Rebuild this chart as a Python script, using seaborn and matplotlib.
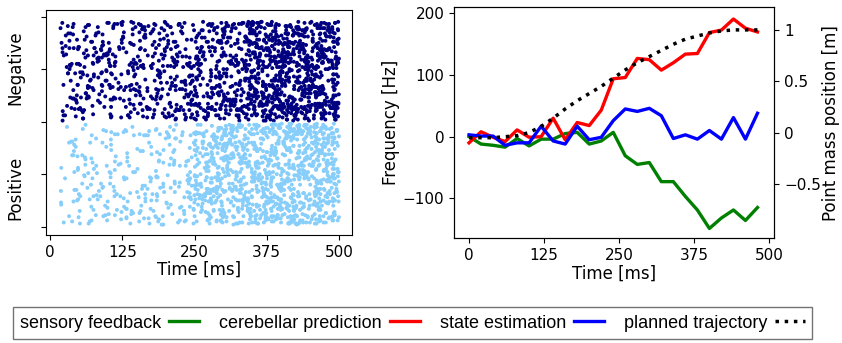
import numpy as np
import pandas as pd
import matplotlib
matplotlib.use("Agg")
import matplotlib.pyplot as plt
import seaborn as sns

# ---------------- data ----------------
# Raster: spike counts per time bin (ms) for each population
bin_edges = [18, 25, 50, 75, 100, 125, 150, 175, 200, 225, 250,
             275, 300, 325, 350, 375, 400, 425, 450, 475, 500]
neg_counts = [10, 42, 44, 44, 44, 44, 48, 52, 54, 56,
              66, 72, 76, 92, 115, 125, 128, 128, 124, 112]
pos_counts = [5, 25, 25, 25, 25, 26, 30, 32, 34, 38,
              82, 94, 98, 100, 104, 110, 112, 115, 115, 110]
neg_ids = (101, 195)   # neuron index range of the negative population
pos_ids = (2, 98)      # neuron index range of the positive population

# Right panel
time_ms = [0, 20, 40, 60, 80, 100, 120, 140, 160, 180, 200, 220, 240,
           260, 280, 300, 320, 340, 360, 380, 400, 420, 440, 460, 480]
sensory = [0, -12, -14, -17, -3, -15, -4, -4, 5, 7, -12, -7, 7,
           -31, -45, -42, -73, -73, -97, -119, -149, -132, -119, -136, -115]
cerebellar = [-10, 8, -1, -8, 11, -1, 0, 30, -5, 23, 18, 43, 94,
              96, 127, 125, 108, 120, 134, 135, 169, 173, 191, 176, 170]
state = [3, 1, 1, -14, -10, -10, 17, -7, -12, 17, -5, -1, 26,
         45, 41, 46, 34, -3, 3, -4, 10, -4, 31, -4, 38]
planned = [-0.05, -0.05, -0.05, -0.04, -0.03, 0.0, 0.06, 0.14, 0.23, 0.31,
           0.38, 0.45, 0.53, 0.61, 0.68, 0.74, 0.80, 0.86, 0.91, 0.94,
           0.97, 0.99, 1.0, 1.0, 1.0]

x_ticks = [0, 125, 250, 375, 500]
freq_ticks = [-100, 0, 100, 200]
pos_ticks = [-0.5, 0, 0.5, 1]
pos_tick_labels = ["\u22120.5", "0", "0.5", "1"]
legend_labels = ["sensory feedback", "cerebellar prediction",
                 "state estimation", "planned trajectory"]


# ---------------- spike layout inside each bin (deterministic hash) ----------------
def _frac_hash(k, salt):
    x = np.sin(k * 12.9898 + salt * 78.233) * 43758.5453
    return x - np.floor(x)


def layout_spikes(counts, ids, label, salt):
    rows = []
    n = 0
    for i, c in enumerate(counts):
        t0, t1 = bin_edges[i], bin_edges[i + 1]
        for _ in range(c):
            n += 1
            u = _frac_hash(n, salt)
            v = _frac_hash(n, salt + 3.17)
            rows.append((t0 + (t1 - t0) * u,
                         round(ids[0] + (ids[1] - ids[0]) * v), label))
    return rows


spikes = pd.DataFrame(
    layout_spikes(neg_counts, neg_ids, "Negative", 1.0)
    + layout_spikes(pos_counts, pos_ids, "Positive", 5.0),
    columns=["time", "neuron", "population"])

# ---------------- figure ----------------
fig = plt.figure(figsize=(8.42, 3.43), dpi=100)
ax1 = fig.add_axes([0.0543, 0.3149, 0.3634, 0.656])
ax2 = fig.add_axes([0.5392, 0.3052, 0.3804, 0.6735])

sns.scatterplot(data=spikes, x="time", y="neuron", hue="population",
                palette={"Negative": "navy", "Positive": "lightskyblue"},
                s=8, linewidth=0, legend=False, ax=ax1)
ax1.set_xlim(-7.5, 522)
ax1.set_ylim(-7.9, 206.3)
ax1.set_xticks(x_ticks)
ax1.set_yticks([0, 50, 100, 150, 200])
ax1.set_yticklabels([])
ax1.tick_params(labelsize=11)
ax1.set_xlabel("Time [ms]", fontsize=12, labelpad=1)
ax1.set_ylabel("")
ax1.text(-0.098, 151.5, "Negative", rotation=90, ha="center", va="center",
         fontsize=12, transform=ax1.get_yaxis_transform())
ax1.text(-0.098, 37, "Positive", rotation=90, ha="center", va="center",
         fontsize=12, transform=ax1.get_yaxis_transform())

lw = 2.4
sns.lineplot(x=time_ms, y=sensory, color="green", lw=lw, ax=ax2)
h_sens = ax2.lines[-1]
sns.lineplot(x=time_ms, y=cerebellar, color="red", lw=lw, ax=ax2)
h_cer = ax2.lines[-1]
sns.lineplot(x=time_ms, y=state, color="blue", lw=lw, ax=ax2)
h_state = ax2.lines[-1]
ax2.set_xlim(-25, 508)
ax2.set_ylim(-165, 210)
ax2.set_xticks(x_ticks)
ax2.set_yticks(freq_ticks)
ax2.tick_params(labelsize=11)
ax2.set_xlabel("Time [ms]", fontsize=12, labelpad=1)
ax2.set_ylabel("Frequency [Hz]", fontsize=12, labelpad=2)

ax3 = ax2.twinx()
sns.lineplot(x=time_ms, y=planned, color="black", lw=2.5, linestyle=":", ax=ax3)
h_plan = ax3.lines[-1]
ax3.set_ylim(-1.03, 1.22)
ax3.set_yticks(pos_ticks)
ax3.set_yticklabels(pos_tick_labels)
ax3.tick_params(labelsize=11)
ax3.set_ylabel("Point mass position [m]", fontsize=12, labelpad=1)

leg = fig.legend([h_sens, h_cer, h_state, h_plan], legend_labels,
                 loc="center", bbox_to_anchor=(0.49, 0.058), ncol=4,
                 markerfirst=False, frameon=True, fancybox=False,
                 framealpha=1, edgecolor="0.45",
                 prop={"family": "Liberation Sans", "size": 13},
                 handlelength=1.66, handletextpad=0.44, columnspacing=1.1,
                 borderpad=0.4)
leg.get_frame().set_linewidth(1.0)

fig.savefig("out.png", dpi=100)
